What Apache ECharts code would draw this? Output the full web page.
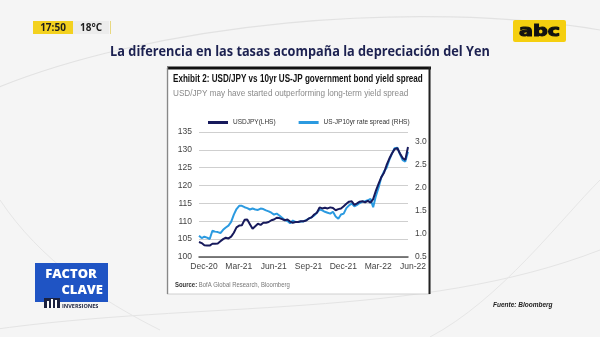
<!DOCTYPE html>
<html>
<head>
<meta charset="utf-8">
<script src="https://cdn.jsdelivr.net/npm/echarts@6/dist/echarts.min.js"></script>
<style>
html,body{margin:0;padding:0;background:#f5f5f5;}
#c{width:600px;height:337px;}
</style>
</head>
<body>
<div id="c"></div>
<script>
// ---- data ----
const xTickLabels = ['Dec-20','Mar-21','Jun-21','Sep-21','Dec-21','Mar-22','Jun-22'];
const leftTicks = [100,105,110,115,120,125,130,135];
const rightTicks = [0.5,1.0,1.5,2.0,2.5,3.0];
// weekly observations, Dec-20 .. Jun-22
const usdjpy = [
 104.2,103.9,103.3,103.2,103.2,103.7,103.7,103.8,104.4,105.0,
 105.4,105.2,105.7,106.8,108.3,108.8,108.9,110.4,110.5,109.2,
 107.9,108.6,109.3,109.0,109.6,109.6,109.8,110.3,110.5,111.0,
 110.9,110.6,110.3,110.5,109.9,109.6,109.8,109.8,110.0,110.0,
 110.2,110.8,111.1,111.9,112.4,113.9,113.6,113.8,113.6,113.9,
 113.7,113.1,113.4,113.6,114.2,114.9,115.5,115.6,114.6,115.0,
 115.5,115.6,115.3,115.7,115.2,116.2,118.5,120.5,122.3,123.5,
 125.7,127.5,129.0,130.2,130.5,129.0,127.7,127.2,130.8
];
const spread = [
 0.96,0.91,0.94,0.92,0.89,1.07,1.05,1.04,1.02,1.09,
 1.14,1.18,1.26,1.42,1.54,1.61,1.61,1.58,1.56,1.53,
 1.55,1.53,1.52,1.55,1.54,1.51,1.49,1.46,1.42,1.44,
 1.40,1.35,1.30,1.28,1.23,1.29,1.26,1.26,1.27,1.27,
 1.30,1.33,1.36,1.40,1.46,1.53,1.51,1.48,1.46,1.44,
 1.48,1.38,1.33,1.42,1.44,1.56,1.62,1.66,1.60,1.63,
 1.67,1.70,1.71,1.73,1.76,1.58,1.82,2.00,2.22,2.35,
 2.43,2.60,2.74,2.86,2.87,2.73,2.60,2.57,2.78
];
const seriesNames = ['USDJPY(LHS)','US-JP10yr rate spread (RHS)'];

const ARIAL = "'Liberation Sans',Arial,sans-serif";
const chart = echarts.init(document.getElementById('c'), null, {renderer:'canvas'});

const option = {
  backgroundColor: '#f5f5f5',
  animation: false,
  graphic: [
    // background swooshes
    {type:'bezierCurve', z:-20, shape:{x1:-20,y1:95,x2:600,y2:30,cpx1:150,cpy1:20,cpx2:420,cpy2:0}, style:{stroke:'#e2e2e2',lineWidth:1.2,fill:null}},
    {type:'bezierCurve', z:-20, shape:{x1:-10,y1:330,x2:600,y2:250,cpx1:200,cpy1:300,cpx2:420,cpy2:320}, style:{stroke:'#e4e4e4',lineWidth:1,fill:null}},
    {type:'bezierCurve', z:-20, shape:{x1:430,y1:337,x2:600,y2:180,cpx1:500,cpy1:300,cpx2:560,cpy2:220}, style:{stroke:'#e6e6e6',lineWidth:1,fill:null}},
    {type:'bezierCurve', z:-20, shape:{x1:0,y1:200,x2:160,y2:330,cpx1:40,cpy1:260,cpx2:100,cpy2:300}, style:{stroke:'#e6e6e6',lineWidth:1,fill:null}},
    // header time / temp
    {type:'rect', z:-10, shape:{x:33,y:21,width:40,height:13}, style:{fill:'#f3d11f'}},
    {type:'rect', z:-10, shape:{x:73,y:21,width:36,height:13}, style:{fill:'#ececec'}},
    {type:'rect', z:-10, shape:{x:110,y:21,width:1,height:13}, style:{fill:'#e8d880'}},
    {type:'text', z:-9, style:{x:53,y:28,text:'17:50',fill:'#1e1e1e',font:"bold 10px 'Open Sans',sans-serif",align:'center',verticalAlign:'middle'}},
    {type:'text', z:-9, style:{x:91,y:28,text:'18°C',fill:'#1e1e1e',font:"bold 10px 'Open Sans',sans-serif",align:'center',verticalAlign:'middle'}},
    // main title
    {type:'text', z:-9, x:300, y:52, scaleX:0.85, style:{x:0,y:0,text:'La diferencia en las tasas acompaña la depreciación del Yen',fill:'#1c2150',font:"bold 15px 'Open Sans',sans-serif",align:'center',verticalAlign:'middle'}},
    // abc logo
    {type:'rect', z:-10, shape:{x:513,y:20,width:53,height:22,r:2}, style:{fill:'#f5cf0f'}},
    {type:'text', z:-9, x:539.5, y:32, scaleX:1.15, scaleY:0.85, style:{x:0,y:0,text:'abc',fill:'#111',stroke:'#111',lineWidth:1.2,font:"bold 18px 'DejaVu Sans',sans-serif",align:'center',verticalAlign:'middle'}},
    // chart box
    {type:'rect', z:-10, shape:{x:167,y:68,width:263,height:226}, style:{fill:'#ffffff',stroke:'#d0d0d0',lineWidth:1}},
    {type:'rect', z:-9, shape:{x:167,y:66.5,width:264,height:3}, style:{fill:'#111'}},
    {type:'rect', z:-9, shape:{x:428.5,y:67,width:2,height:227}, style:{fill:'#222'}},
    {type:'rect', z:-9, shape:{x:167,y:67,width:1.2,height:227}, style:{fill:'#888'}},
    {type:'text', z:-8, x:173, y:79, scaleX:0.81, style:{x:0,y:0,text:'Exhibit 2: USD/JPY vs 10yr US-JP government bond yield spread',fill:'#111',font:"bold 10px "+ARIAL,verticalAlign:'middle'}},
    {type:'text', z:-8, x:173, y:93, scaleX:0.86, style:{x:0,y:0,text:'USD/JPY may have started outperforming long-term yield spread',fill:'#8a8a8a',font:"9.5px "+ARIAL,verticalAlign:'middle'}},
    {type:'text', z:-8, x:175, y:285, scaleX:0.85, style:{x:0,y:0,rich:{b:{font:"bold 7px "+ARIAL,fill:'#333'},n:{font:"7px "+ARIAL,fill:'#777'}},text:'{b|Source:}{n| BofA Global Research, Bloomberg}',verticalAlign:'middle'}},
    // Factor clave logo
    {type:'rect', z:-10, shape:{x:35,y:263,width:73,height:39}, style:{fill:'#1f54c4'}},
    {type:'text', z:-9, style:{x:71,y:274,text:'FACTOR',fill:'#fff',font:"900 13px 'Open Sans',sans-serif",align:'center',verticalAlign:'middle'}},
    {type:'text', z:-9, style:{x:103,y:290,text:'CLAVE',fill:'#fff',font:"900 13px 'Open Sans',sans-serif",align:'right',verticalAlign:'middle'}},
    {type:'rect', z:-9, shape:{x:44,y:298,width:16,height:10}, style:{fill:'#1b2240'}},
    {type:'rect', z:-8, shape:{x:47,y:301,width:2,height:7}, style:{fill:'#fff'}},
    {type:'rect', z:-8, shape:{x:51,y:299,width:2,height:9}, style:{fill:'#fff'}},
    {type:'rect', z:-8, shape:{x:55,y:300,width:2,height:8}, style:{fill:'#fff'}},
    {type:'text', z:-9, style:{x:62,y:306,text:'INVERSIONES',fill:'#1b2240',font:"bold 5.5px 'Open Sans',sans-serif",verticalAlign:'middle'}},
    // fuente
    {type:'text', z:-9, style:{x:493,y:305,text:'Fuente: Bloomberg',fill:'#222',font:"italic bold 6.5px "+ARIAL,verticalAlign:'middle'}}
  ],
  legend: {
    left: 203, top: 114,
    itemWidth: 20, itemHeight: 3, itemGap: 23, icon: 'rect',
    data: seriesNames,
    textStyle: {fontFamily: ARIAL, fontSize: 6.5, color: '#333'}
  },
  grid: {left: 199, top: 132, width: 209, height: 125, containLabel: false},
  xAxis: {
    type: 'value', min: 0, max: 78, interval: 13,
    axisLine: {show: true, lineStyle: {color: '#555', width: 1.5}},
    axisTick: {show: false},
    splitLine: {show: false},
    axisLabel: {
      fontFamily: ARIAL, fontSize: 8.5, color: '#444', margin: 5, padding:[0,0,0,10],
      formatter: v => xTickLabels[Math.round(v/13)] || ''
    }
  },
  yAxis: [
    {
      type: 'value', min: leftTicks[0], max: leftTicks[leftTicks.length-1], interval: 5,
      axisLine: {show: false}, axisTick: {show: false},
      splitLine: {lineStyle: {color: '#cfcfcf', width: 1}},
      axisLabel: {fontFamily: ARIAL, fontSize: 8.5, color: '#444', margin: 7}
    },
    {
      type: 'value', min: rightTicks[0], max: 3.21, interval: 0.5,
      axisLine: {show: false}, axisTick: {show: false}, splitLine: {show: false},
      axisLabel: {fontFamily: ARIAL, fontSize: 8.5, color: '#444', margin: 7, showMaxLabel: false,
        formatter: v => v.toFixed(1)}
    }
  ],
  series: [
    {
      name: seriesNames[1], type: 'line', yAxisIndex: 1, showSymbol: false, z: 3,
      data: spread.map((v,i)=>[i,v]),
      lineStyle: {color: '#2b9ae0', width: 2}, itemStyle: {color: '#2b9ae0'}
    },
    {
      name: seriesNames[0], type: 'line', yAxisIndex: 0, showSymbol: false, z: 4,
      data: usdjpy.map((v,i)=>[i,v]),
      lineStyle: {color: '#171a5c', width: 2}, itemStyle: {color: '#171a5c'}
    }
  ]
};
chart.setOption(option);
</script>
</body>
</html>
